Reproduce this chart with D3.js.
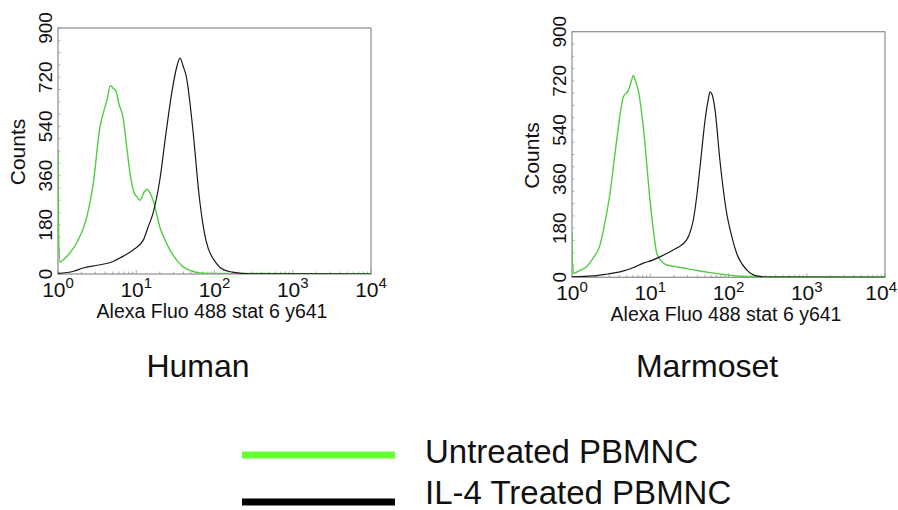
<!DOCTYPE html>
<html><head><meta charset="utf-8">
<script src="https://cdn.jsdelivr.net/npm/d3@7"></script>
<style>
html,body{margin:0;padding:0;background:#fff;}
text{font-family:"Liberation Sans",Arial,Helvetica,sans-serif;fill:#111;}
</style></head>
<body><svg id="chart" width="898" height="510"></svg>
<script>
// ---------- data ----------
const xTickExponents = [0, 1, 2, 3, 4];
const yTickValues = [0, 180, 360, 540, 720, 900];
const panelTitles = ["Human", "Marmoset"];
const xAxisLabel = "Alexa Fluo 488 stat 6 y641";
const yAxisLabel = "Counts";
const seriesNames = ["Untreated PBMNC", "IL-4 Treated PBMNC"];

const humanUntreatedX = [1, 1.02, 1.07, 1.2, 1.42, 1.78, 2.34, 2.82, 3.44, 3.8, 4.23, 4.68, 5.05, 5.5, 6.03, 6.76, 7.59, 8.32, 9.33, 10.2, 11.2, 12.6, 13.8, 15.1, 16.4, 18.2, 20, 22.9, 26.9, 33.1, 39.8, 50.1, 64.6, 100, 10000];
const humanUntreatedY = [454, 120, 44, 55, 77, 120, 209, 330, 538, 590, 637, 690, 680, 670, 620, 574, 460, 369, 300, 282, 270, 300, 310, 295, 270, 220, 172, 130, 88, 50, 26, 12, 4, 2, 1];
const humanTreatedX = [1, 1.58, 2.09, 3.16, 4.68, 6.31, 9.12, 12.3, 14.1, 16.4, 20, 24, 28.8, 33.1, 36.3, 39.8, 43.7, 52.5, 64.6, 77.6, 105, 132, 170, 282, 10000];
const humanTreatedY = [2, 10, 22, 32, 42, 60, 88, 124, 170, 223, 344, 516, 673, 760, 790, 760, 721, 538, 270, 124, 40, 15, 7, 1, 0];
const marmosetUntreatedX = [1, 1.01, 1.05, 1.26, 1.54, 1.86, 2.28, 2.63, 3.06, 3.72, 4.53, 5.25, 5.75, 6.07, 6.46, 7.03, 8.15, 9.93, 11, 12.1, 13.8, 16.2, 20, 26.3, 39.8, 57.5, 89.1, 129, 251, 10000];
const marmosetUntreatedY = [168, 60, 15, 25, 39, 70, 118, 200, 308, 502, 661, 685, 720, 740, 720, 685, 551, 283, 170, 88, 60, 45, 40, 34, 25, 17, 10, 5, 2, 1];
const marmosetTreatedX = [1, 1.85, 2.82, 4.1, 6.03, 8.15, 10.5, 13.3, 17.4, 21.8, 29.2, 33.1, 35.5, 39.8, 43.3, 50.1, 55, 58.1, 61.7, 67.1, 77.6, 94.8, 110, 127, 171, 229, 316, 10000];
const marmosetTreatedY = [2, 5, 12, 20, 35, 52, 62, 75, 92, 107, 137, 175, 210, 310, 405, 574, 650, 680, 670, 616, 430, 235, 150, 88, 27, 5, 1, 0];

// ---------- layout ----------
const W = 898;
const svg = d3.select("#chart");
const panels = [
  {title: panelTitles[0], x0: 58, x1: 371, y0: 28, y1: 274, titleX: 198, titleY: 377,
   series: [[humanUntreatedX, humanUntreatedY], [humanTreatedX, humanTreatedY]]},
  {title: panelTitles[1], x0: 572, x1: 885, y0: 31.7, y1: 277.3, titleX: 707, titleY: 377,
   series: [[marmosetUntreatedX, marmosetUntreatedY], [marmosetTreatedX, marmosetTreatedY]]}
];
const plotColors = ["#4fcf3f", "#1a1a1a"];
const legendColors = ["#66ff33", "#000000"];

panels.forEach((p, i) => {
  const x = d3.scaleLog().domain([1, 10000]).range([p.x0, p.x1]);
  const y = d3.scaleLinear().domain([0, 900]).range([p.y1, p.y0]);
  const g = svg.append("g");

  const cid = "clip" + i;
  svg.append("clipPath").attr("id", cid).append("rect")
    .attr("x", p.x0).attr("y", p.y0 - 2).attr("width", p.x1 - p.x0).attr("height", p.y1 - p.y0 + 2);

  // minor ticks on left axis (inward)
  const yMinor = d3.range(0, 901, 45);
  g.selectAll(".ymin").data(yMinor).join("line")
    .attr("x1", p.x0).attr("x2", p.x0 + 2.5)
    .attr("y1", d => y(d)).attr("y2", d => y(d))
    .attr("stroke", "#999").attr("stroke-width", 0.8);
  // minor ticks on bottom axis (log)
  const xMinor = [];
  for (let e = 0; e < 4; e++) for (let m = 1; m < 10; m++) xMinor.push(m * Math.pow(10, e));
  xMinor.push(10000);
  g.selectAll(".xmin").data(xMinor).join("line")
    .attr("x1", d => x(d)).attr("x2", d => x(d))
    .attr("y1", p.y1).attr("y2", d => p.y1 - (Math.log10(d) % 1 === 0 ? 4 : 2.5))
    .attr("stroke", "#999").attr("stroke-width", 0.8);

  // frame
  g.append("rect").attr("x", p.x0).attr("y", p.y0)
    .attr("width", p.x1 - p.x0).attr("height", p.y1 - p.y0)
    .attr("fill", "none").attr("stroke", "#8c8c8c").attr("stroke-width", 1.2);

  // lines
  const line = d3.line().x(d => x(d[0])).y(d => y(d[1])).curve(d3.curveMonotoneX);
  p.series.forEach((s, k) => {
    const pts = s[0].map((v, j) => [v, s[1][j]]);
    g.append("path").datum(pts).attr("d", line)
      .attr("fill", "none").attr("stroke", plotColors[k])
      .attr("stroke-width", k === 0 ? 1.4 : 1.2)
      .attr("clip-path", `url(#${cid})`);
  });

  // y tick labels (rotated)
  g.selectAll(".ylab").data(yTickValues).join("text")
    .attr("transform", d => `translate(${p.x0 - 6.5},${y(d)}) rotate(-90)`)
    .attr("text-anchor", "middle").attr("font-size", 19)
    .text(d => d);
  // y axis label
  g.append("text")
    .attr("transform", `translate(${p.x0 - 33},${(p.y0 + p.y1) / 2 + 1}) rotate(-90)`)
    .attr("text-anchor", "middle").attr("font-size", 21).text(yAxisLabel);

  // x tick labels 10^n
  xTickExponents.forEach(e => {
    const t = g.append("text")
      .attr("x", x(Math.pow(10, e))).attr("y", p.y1 + 22.7)
      .attr("text-anchor", "middle").attr("font-size", 21);
    t.append("tspan").text("10");
    t.append("tspan").attr("dy", -8.5).attr("font-size", 15).text(e);
    const bb = t.node().getBBox();
    if (bb.x + bb.width > W - 1) {
      t.attr("x", +t.attr("x") - (bb.x + bb.width - (W - 1)));
    }
  });
  // x axis label
  g.append("text").attr("x", (p.x0 + p.x1) / 2 - 2.5).attr("y", p.y1 + 44)
    .attr("text-anchor", "middle").attr("font-size", 19.5).text(xAxisLabel);

  // panel title
  svg.append("text").attr("x", p.titleX).attr("y", p.titleY)
    .attr("text-anchor", "middle").attr("font-size", 32).text(p.title);
});

// legend
const legendLineY = [455, 502];
const legendTextY = [463, 504];
const lg = svg.append("g");
seriesNames.forEach((name, k) => {
  lg.append("line").attr("x1", 242).attr("x2", 395)
    .attr("y1", legendLineY[k]).attr("y2", legendLineY[k])
    .attr("stroke", legendColors[k]).attr("stroke-width", 7);
  lg.append("text").attr("x", 425).attr("y", legendTextY[k])
    .attr("font-size", 33).text(name);
});
</script></body></html>
